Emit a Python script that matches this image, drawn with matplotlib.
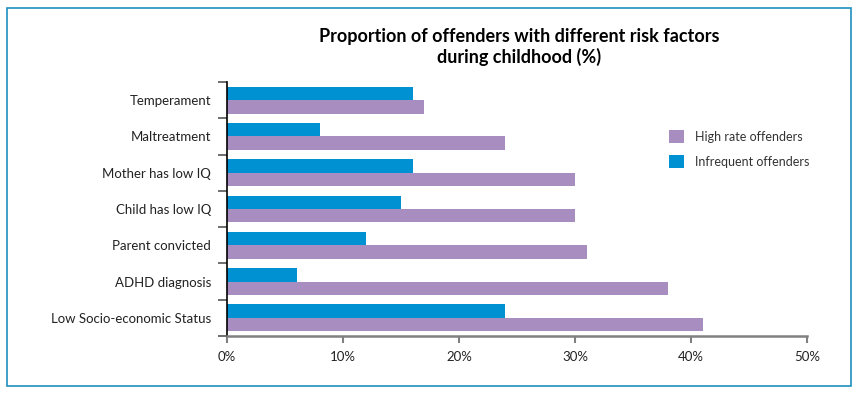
import matplotlib
matplotlib.use("Agg")
import matplotlib.pyplot as plt
import numpy as np
from matplotlib.patches import Rectangle
from matplotlib.ticker import FixedLocator, PercentFormatter

# ── data ──────────────────────────────────────────────────────────────────────

categories = ["Temperament", "Maltreatment", "Mother has low IQ", "Child has low IQ",
              "Parent convicted", "ADHD diagnosis", "Low Socio-economic Status"]
high_rate  = [17, 24, 30, 30, 31, 38, 41]
infrequent = [16, 8, 16, 15, 12, 6, 24]
x_ticks    = [0, 10, 20, 30, 40, 50]

PURPLE = "#a88dc0"
BLUE   = "#0091d2"
FRAME  = "#1f8fbf"

plt.rcParams["font.family"] = ["Lato", "DejaVu Sans"]

fig = plt.figure(figsize=(8.59, 3.95), dpi=100)
ax = fig.add_axes([0.2643, 0.1494, 0.6752, 0.6430])

# ── bars ──────────────────────────────────────────────────────────────────────

y = np.arange(len(categories))
h = 0.37
ax.barh(y + h / 2, high_rate, height=h, color=PURPLE, label="High rate offenders")
ax.barh(y - h / 2, infrequent, height=h, color=BLUE, label="Infrequent offenders")

ax.set_ylim(-0.5, len(categories) - 0.5)
ax.invert_yaxis()
ax.set_xlim(0, 50)

# ── axes styling ──────────────────────────────────────────────────────────────

for side in ("top", "right"):
    ax.spines[side].set_visible(False)
ax.spines["left"].set_color("black")
ax.spines["left"].set_linewidth(1.2)
ax.spines["bottom"].set_color("#808080")
ax.spines["bottom"].set_linewidth(1.8)

ax.set_xticks(x_ticks)
ax.xaxis.set_major_formatter(PercentFormatter(decimals=0))
ax.tick_params(axis="x", direction="out", length=5, width=1.5, color="#808080",
               labelsize=9.5, labelcolor="#222222", pad=6)

ax.set_yticks(y)
ax.set_yticklabels(categories)
ax.yaxis.set_minor_locator(FixedLocator(np.arange(-0.5, len(categories), 1.0)))
ax.tick_params(axis="y", which="major", length=0, pad=11.5,
               labelsize=9.5, labelcolor="#222222")
ax.tick_params(axis="y", which="minor", direction="out", length=6.5, width=1.2,
               color="#555555")

# ── title + legend ────────────────────────────────────────────────────────────

fig.text(0.604, 0.93, "Proportion of offenders with different risk factors\nduring childhood (%)",
         ha="center", va="top", fontsize=13, fontweight="bold", linespacing=1.2)

ax.legend(loc="upper left", bbox_to_anchor=(0.743, 0.855), frameon=False,
          fontsize=9, handlelength=1.2, handleheight=1.2, handletextpad=0.9,
          labelspacing=1.0, labelcolor="#333333")

# outer frame
fig.patches.append(Rectangle((7 / 859, 1 - 386 / 395), 844 / 859, 378 / 395,
                             transform=fig.transFigure, fill=False,
                             edgecolor=FRAME, linewidth=1.2))

fig.savefig("out.png", dpi=100)
